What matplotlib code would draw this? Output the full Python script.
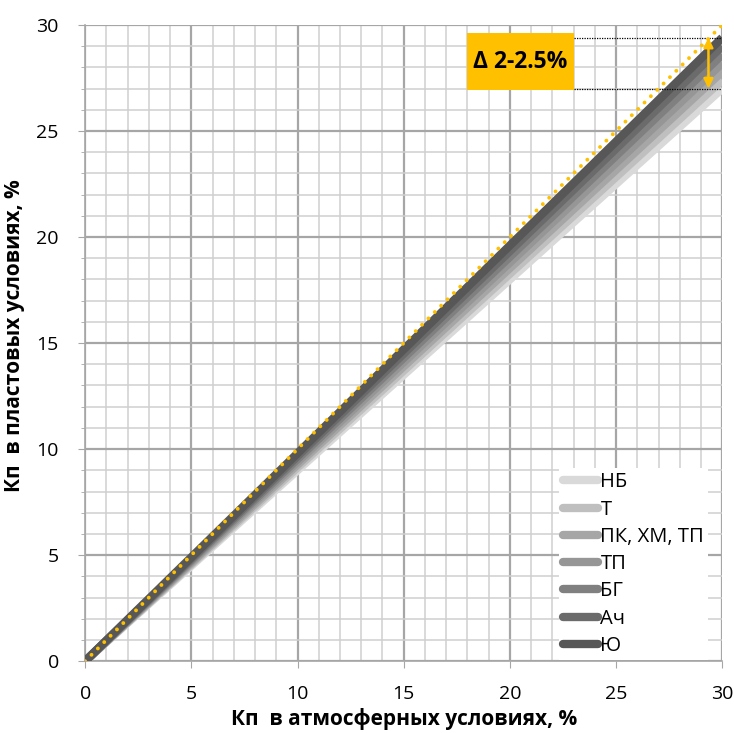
import matplotlib
matplotlib.use("Agg")
import matplotlib.pyplot as plt
from matplotlib.patches import Rectangle
from matplotlib.ticker import MultipleLocator

plt.rcParams['font.family'] = ['Open Sans', 'DejaVu Sans']

series = ["НБ", "Т", "ПК, ХМ, ТП", "ТП", "БГ", "Ач", "Ю"]
colors = ["#d9d9d9", "#bfbfbf", "#a6a6a6", "#969696", "#808080", "#6b6b6b", "#575757"]
x_atm = [0, 30]
y_res = {
    "НБ": [0, 27.0],
    "Т": [0, 27.4],
    "ПК, ХМ, ТП": [0, 27.8],
    "ТП": [0, 28.2],
    "БГ": [0, 28.6],
    "Ач": [0, 29.0],
    "Ю": [0, 29.4],
}
ref_x = [0, 30]
ref_y = [0, 30]
delta_text = "Δ 2-2.5%"
delta_lo, delta_hi = 27.0, 29.4

fig = plt.figure(figsize=(7.34, 7.33), dpi=100)
ax = fig.add_axes([0.116, 0.098, 0.868, 0.868])
ax.set_xlim(0, 30)
ax.set_ylim(0, 30)

ax.xaxis.set_major_locator(MultipleLocator(5))
ax.yaxis.set_major_locator(MultipleLocator(5))
ax.xaxis.set_minor_locator(MultipleLocator(1))
ax.yaxis.set_minor_locator(MultipleLocator(1))
ax.grid(which='major', color='#a6a6a6', lw=1.6, zorder=0)
ax.grid(which='minor', color='#cfcfcf', lw=1.1, zorder=0)
ax.set_axisbelow(True)
for s in ['top', 'right']:
    ax.spines[s].set_visible(False)
for s in ['left', 'bottom']:
    ax.spines[s].set_color('#a6a6a6')
    ax.spines[s].set_linewidth(1.2)
ax.tick_params(which='major', length=5, color='#a6a6a6', labelsize=14)
ax.tick_params(axis='y', which='major', pad=14)
ax.tick_params(axis='x', which='major', pad=12)
ax.tick_params(axis='x', which='minor', length=0)
ax.tick_params(axis='y', which='minor', length=3, color='#a6a6a6')

handles = []
for name, c in zip(series, colors):
    h, = ax.plot(x_atm, y_res[name], color=c, lw=6, solid_capstyle='butt', label=name, zorder=3)
    handles.append(h)

ax.plot(ref_x, ref_y, color='#ffc000', lw=2.8, linestyle=(0, (0.01, 2.3)),
        dash_capstyle='round', zorder=5)

# annotation
ax.add_patch(Rectangle((18.0, 26.95), 5.0, 2.65, facecolor='#ffc000', edgecolor='none', zorder=6))
ax.text(20.5, 28.25, delta_text, ha='center', va='center', fontsize=16.5, fontweight='bold', zorder=7)
ax.plot([23, 30], [delta_hi, delta_hi], color='black', lw=0.9, linestyle=(0, (1, 1)), zorder=4)
ax.plot([23, 30], [delta_lo, delta_lo], color='black', lw=0.9, linestyle=(0, (1, 1)), zorder=4)
ax.annotate('', xy=(29.35, delta_lo), xytext=(29.35, delta_hi),
            arrowprops=dict(arrowstyle='<|-|>', color='#ffc000', lw=1.8,
                            mutation_scale=14, shrinkA=0, shrinkB=0), zorder=8)

leg = ax.legend(handles=handles, loc='lower right', bbox_to_anchor=(0.978, 0.002),
                frameon=True, fancybox=False, framealpha=1, edgecolor='none',
                facecolor='white', fontsize=14.5, handlelength=1.75, handletextpad=0.12,
                labelspacing=0.36, borderpad=0.2, borderaxespad=0)
for lh in leg.get_lines():
    lh.set_solid_capstyle('round')
    lh.set_linewidth(6)
leg.set_zorder(9)

ax.set_xlabel("Кп  в атмосферных условиях, %", fontsize=15, fontweight='bold', labelpad=4)
ax.set_ylabel("Кп  в пластовых условиях, %", fontsize=15, fontweight='bold', labelpad=3)
ax.yaxis.set_label_coords(-0.095, 0.511)

fig.savefig("out.png", dpi=100)
